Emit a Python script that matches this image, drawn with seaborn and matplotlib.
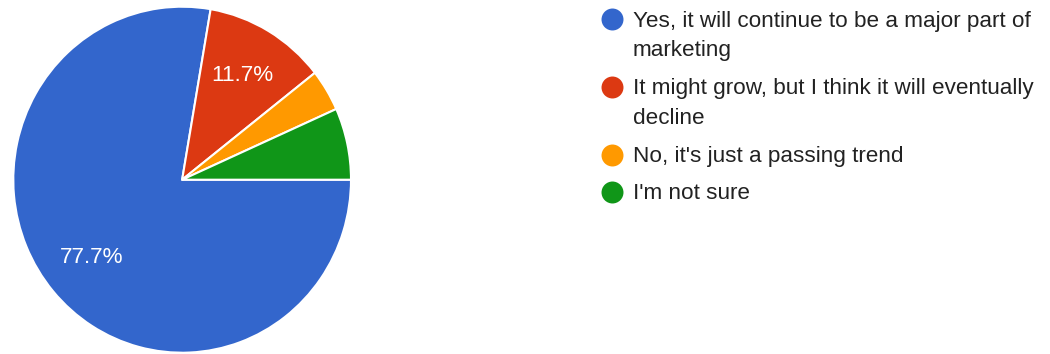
import matplotlib
matplotlib.use("Agg")
import matplotlib.pyplot as plt
import seaborn as sns

# survey answers (share of respondents, %)
labels = [
    "Yes, it will continue to be a major part of\nmarketing",
    "It might grow, but I think it will eventually\ndecline",
    "No, it's just a passing trend",
    "I'm not sure",
]
shares = [77.7, 11.7, 3.9, 6.7]
colors = ["#3366CC", "#DC3912", "#FF9900", "#109618"]

sns.set_theme(style="white")
plt.rcParams["font.family"] = ["Liberation Sans", "DejaVu Sans"]

W, H = 1050, 354
fig = plt.figure(figsize=(W / 100, H / 100), dpi=100)

# pie axes (slightly taller than wide, like the reference)
px_left, px_right, px_top, px_bottom = 13.3, 351.0, 6.7, 352.7
ax = fig.add_axes([px_left / W, (H - px_bottom) / H,
                   (px_right - px_left) / W, (px_bottom - px_top) / H])
wedges, _, autotexts = ax.pie(
    shares,
    colors=colors,
    startangle=0,
    counterclock=False,
    autopct=lambda p: f"{p:.1f}%" if p > 10 else "",
    pctdistance=0.7,
    wedgeprops=dict(edgecolor="white", linewidth=1.5),
    textprops=dict(color="white", fontsize=16.2),
)
ax.set_aspect("auto")
ax.set_xlim(-1, 1)
ax.set_ylim(-1, 1)

# legend drawn in pixel space
lg = fig.add_axes([0, 0, 1, 1])
lg.set_xlim(0, W)
lg.set_ylim(H, 0)
lg.axis("off")
first_baselines = [26.7, 94.0, 162.0, 199.0]
line_step = 29.5
for lab, col, yb in zip(labels, colors, first_baselines):
    lg.scatter([612], [yb - 7.5], s=250, color=col, linewidths=0)
    for j, line in enumerate(lab.split("\n")):
        lg.text(633, yb + j * line_step, line, fontsize=16.2, color="#222222",
                va="baseline", ha="left")

fig.savefig("out.png", dpi=100)
